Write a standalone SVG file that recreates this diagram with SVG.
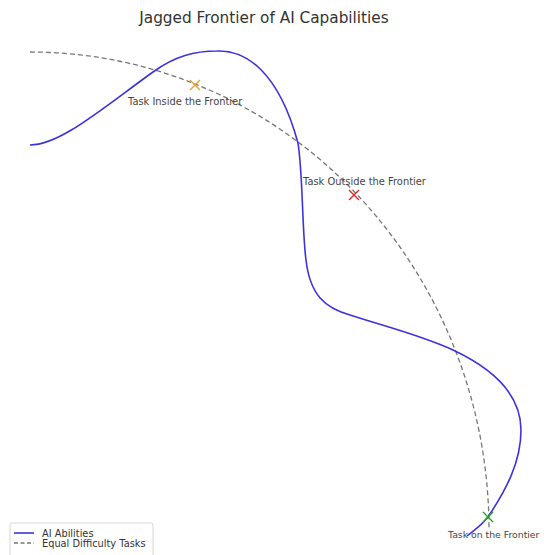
<svg xmlns="http://www.w3.org/2000/svg" width="544" height="555" viewBox="0 0 544 555">
<style>
text{font-family:"DejaVu Sans","Liberation Sans",sans-serif;}
.title{font-size:15.3px;fill:#333;}
.lbl{font-size:9.9px;fill:#444;}
.leg{font-size:9.8px;fill:#333;}
.ai{fill:none;stroke:#3c32dc;stroke-width:1.6;}
.eq{fill:none;stroke:#777;stroke-width:1.3;stroke-dasharray:5,3;}
.mk{fill:none;stroke-width:1.4;}
</style>
<rect width="544" height="555" fill="#fff"/>
<text class="title" x="264" y="23" text-anchor="middle">Jagged Frontier of AI Capabilities</text>
<g id="connectors">
<path id="equal-difficulty" class="eq" d="M30,52 A459,478 0 0 1 489,530"/>
<path id="ai-abilities" class="ai" d="M30,145 C60,145 100,110 153,72 C175,56 195,51 217,51 C245,50 278,70 298,143 C303,175 302,230 306,260 C310,295 325,308 350,315 C390,328 420,335 453,350 C500,372 521,400 521,430 C521,462 506,490 488,517 C480,527 474,530 467,536"/>
</g>
<g id="task-inside">
<path class="mk" stroke="#e8a030" d="M190,80 L200,90 M200,80 L190,90"/>
<text class="lbl" x="128" y="105">Task Inside the Frontier</text>
</g>
<g id="task-outside">
<path class="mk" stroke="#d62728" d="M349,190 L359,200 M359,190 L349,200"/>
<text class="lbl" x="303" y="185">Task Outside the Frontier</text>
</g>
<g id="task-on">
<path class="mk" stroke="#2ca02c" d="M483,512 L493,522 M493,512 L483,522"/>
<text class="lbl" x="448" y="538" font-size="9.3" style="font-size:9.3px">Task on the Frontier</text>
</g>
<g id="legend">
<rect x="10" y="523" width="143" height="40" rx="2" fill="#fff" stroke="#ccc" stroke-width="0.8"/>
<line class="ai" x1="14" y1="533" x2="34" y2="533"/>
<line x1="14" y1="543" x2="34" y2="543" stroke="#777" stroke-width="1.3" stroke-dasharray="4,2.5"/>
<text class="leg" x="42" y="536.5">AI Abilities</text>
<text class="leg" x="42" y="546.5">Equal Difficulty Tasks</text>
</g>
</svg>
